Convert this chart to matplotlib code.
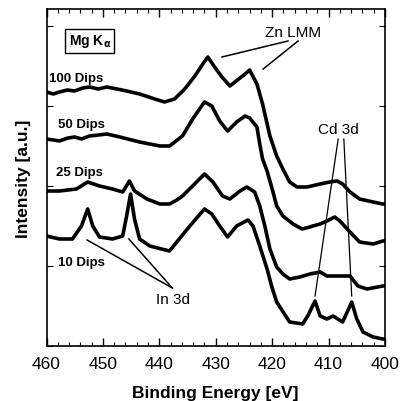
import matplotlib
matplotlib.use("Agg")
import matplotlib.pyplot as plt
from matplotlib.ticker import MultipleLocator, NullFormatter

# ---- data (binding energy in eV, intensity in arbitrary units) ----
e_100 = [460, 458.8, 457.7, 456.3, 455.0, 453.6, 452.4, 450.8, 449.3, 447.5, 445.8,
         443.5, 440.8, 439.1, 437.3, 435.5, 433.7, 432.3, 431.4, 430.2, 428.9, 427.5,
         426.6, 424.8, 424.0, 422.7, 421.7, 420.4, 419.2, 418.1, 416.9, 415.6, 413.8,
         411.5, 409.8, 408.5, 407.5, 406.2, 404.5, 402.1, 400.4, 400]
i_100 = [254, 252, 254, 256, 255, 258, 259, 257, 259, 257, 255,
         252, 247, 244, 247, 257, 270, 282, 289, 279, 269, 260,
         264, 272, 276, 262, 242, 210, 190, 177, 164, 159, 159,
         162, 164, 165, 162, 154, 147, 144, 142, 142]

e_50 = [460, 458.8, 457.7, 456.2, 455.0, 453.8, 452.4, 450.8, 449.3, 447.0, 443.5,
        439.9, 438.2, 435.9, 434.1, 432.0, 430.7, 429.3, 427.9, 426.3, 424.8, 424.0,
        422.7, 422.2, 421.7, 420.9, 419.9, 419.2, 418.1, 416.3, 414.7, 413.3, 412.8,
        411.5, 410.3, 408.9, 408.0, 406.2, 404.5, 402.1, 400.4, 400]
i_50 = [207, 206, 205, 208, 209, 207, 210, 211, 212, 209, 204,
        200, 200, 210, 227, 244, 240, 225, 215, 224, 230, 228,
        219, 202, 187, 175, 155, 140, 130, 122, 117, 119, 120,
        122, 125, 129, 125, 114, 104, 102, 105, 105]

e_25 = [460, 457.7, 454.7, 452.7, 450.6, 448.3, 446.5, 445.3, 444.4, 442.2, 439.9,
        438.2, 436.9, 435.9, 434.1, 432.0, 430.5, 428.8, 427.5, 425.7, 424.5, 423.1,
        422.2, 421.3, 420.4, 419.2, 418.1, 416.9, 415.1, 413.3, 411.5, 410.3, 408.0,
        406.2, 404.8, 403.2, 400.4, 400]
i_25 = [155, 155, 157, 164, 160, 157, 154, 165, 155, 147, 142,
        142, 146, 150, 160, 172, 164, 150, 147, 155, 159, 154,
        140, 120, 97, 79, 72, 67, 69, 72, 74, 70, 70,
        70, 60, 57, 60, 60]

e_10 = [460, 457.7, 455.4, 453.8, 452.7, 451.8, 450.6, 448.3, 446.5, 445.8, 445.1,
        444.4, 443.5, 441.7, 438.2, 436.9, 434.6, 432.0, 430.7, 429.3, 427.9, 426.3,
        424.3, 423.4, 422.2, 420.9, 420.1, 419.2, 416.9, 414.6, 413.7, 412.4, 411.5,
        410.3, 409.2, 407.5, 405.9, 405.0, 403.9, 402.1, 400.4, 400]
i_10 = [110, 107, 107, 120, 137, 120, 109, 107, 110, 130, 152,
        127, 107, 100, 95, 104, 120, 137, 132, 120, 109, 120,
        126, 120, 100, 77, 60, 44, 24, 22, 30, 45, 30,
        27, 30, 24, 44, 27, 14, 9, 7, 7]

series_labels = ["100 Dips", "50 Dips", "25 Dips", "10 Dips"]
x_ticks = [460, 450, 440, 430, 420, 410, 400]

plt.rcParams['font.family'] = ['Liberation Sans', 'DejaVu Sans']

fig = plt.figure(figsize=(4.01, 4.02), dpi=100)
ax = fig.add_axes([46.5 / 401, 55 / 402, 338.5 / 401, 337 / 402])

for e, i in [(e_100, i_100), (e_50, i_50), (e_25, i_25), (e_10, i_10)]:
    ax.plot(e, i, color='black', lw=2.6, solid_joinstyle='round')

ax.set_xlim(460, 400)
ax.set_ylim(0, 337)
ax.set_xticks(x_ticks)
ax.xaxis.set_minor_locator(MultipleLocator(2))
ax.yaxis.set_major_locator(MultipleLocator(80))
ax.yaxis.set_major_formatter(NullFormatter())
ax.tick_params(axis='x', which='major', direction='in', length=6, width=1,
               top=True, labelsize=12.5, pad=7)
ax.tick_params(axis='y', which='major', direction='in', length=4, width=0.8,
               right=True)
ax.tick_params(axis='x', which='minor', direction='in', length=3, width=0.8,
               top=True)
for s in ax.spines.values():
    s.set_linewidth(1.2)

ax.set_xlabel("Binding Energy [eV]", fontsize=12.5, fontweight='bold', labelpad=10)
ax.set_ylabel("Intensity [a.u.]", fontsize=12.5, fontweight='bold', labelpad=8)

# series labels
lab_pos = [(459.5, 268), (458.0, 222), (458.3, 174), (458.0, 84)]
for txt, (x, y) in zip(series_labels, lab_pos):
    ax.text(x, y, txt, fontsize=9.5, fontweight='bold', ha='left', va='center')

# Mg K alpha box
ax.text(456.1, 305, r"Mg K$_\mathbf{\alpha}$", fontsize=10, fontweight='bold',
        ha='left', va='center',
        bbox=dict(boxstyle='square,pad=0.25', fc='white', ec='black', lw=1))

# Zn LMM annotation
ax.text(416.3, 314, "Zn LMM", fontsize=11, ha='center', va='center')
ax.plot([417.2, 428.9], [305, 289], color='black', lw=1.1)
ax.plot([415.4, 421.6], [305, 277], color='black', lw=1.1)

# Cd 3d annotation
ax.text(408.3, 217, "Cd 3d", fontsize=11, ha='center', va='center')
ax.plot([408.3, 412.4], [207, 50], color='black', lw=0.9)
ax.plot([407.3, 405.9], [207, 50], color='black', lw=0.9)

# In 3d annotation
ax.text(437.5, 47, "In 3d", fontsize=11, ha='center', va='center')
ax.plot([452.8, 437.7], [106, 58], color='black', lw=1.1)
ax.plot([445.4, 437.7], [107, 58], color='black', lw=1.1)

fig.savefig("out.png", dpi=100)
